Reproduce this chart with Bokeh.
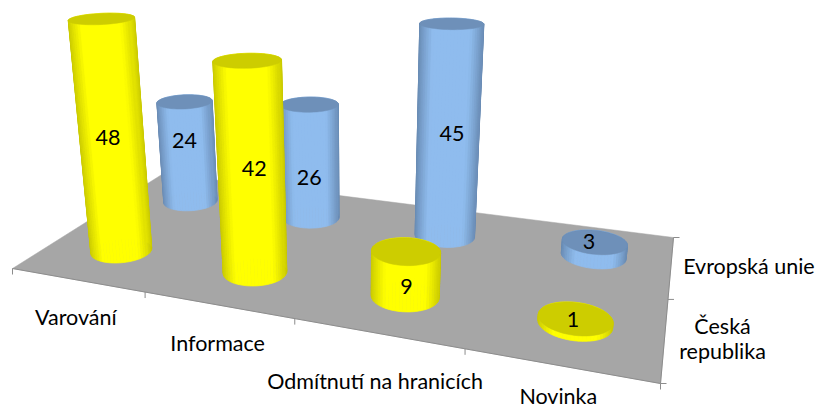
import numpy as np
from bokeh.plotting import figure
from bokeh.models import Range1d, ColumnDataSource
from bokeh.core.properties import value
from bokeh.embed import file_html
from bokeh.resources import INLINE

categories = ["Varování", "Informace", "Odmítnutí na hranicích", "Novinka"]
ceska_republika = [48, 42, 9, 1]
evropska_unie = [24, 26, 45, 3]

FONT = "Lato"
FS = "21.5px"

# small pixel nudges of the value labels (layout only)
NUDGE_CZ = [(-4, -2), (3, -2), (1, 13), (-2, -1)]
NUDGE_EU = [(-3, -12), (-1, 15), (4, 0), (-5, -7)]

# floor corners (X 0..4, Y 0..2) -> picture pixels, a projective camera
src = [(0, 0), (4, 0), (4, 2), (0, 2)]
dst = [(12, 268), (660, 383), (673, 237), (163, 173)]
A, b = [], []
for (u, v), (x, y) in zip(src, dst):
    A.append([u, v, 1, 0, 0, 0, -u * x, -v * x]); b.append(x)
    A.append([0, 0, 0, u, v, 1, -u * y, -v * y]); b.append(y)
H = np.append(np.linalg.solve(np.array(A, float), np.array(b, float)), 1).reshape(3, 3)
V = np.array([354.0, 2976.0, 1.0])
W0 = (H @ np.array([0.5, 0.5, 1.0]))[2]
K = -0.00163 * W0


def proj(X, Y, Z):
    X, Y, Z = np.asarray(X, float), np.asarray(Y, float), np.broadcast_to(np.asarray(Z, float), np.shape(X))
    s = H @ np.vstack([X, Y, np.ones_like(X)]) + np.outer(V, Z * K)
    return s[0] / s[2], s[1] / s[2]


def mix(c0, c1, t):
    return "#%02x%02x%02x" % tuple(int(round(a + (b_ - a) * t)) for a, b_ in zip(c0, c1))


YEL = dict(edge=(200, 200, 0), mid=(255, 255, 0), top="#cdcd00")
BLU = dict(edge=(104, 138, 178), mid=(143, 188, 238), top="#6e90b9")

R = 0.205
CX = 0.52
TH = np.linspace(0, 2 * np.pi, 61)

p = figure(width=818, height=410, x_range=Range1d(0, 818), y_range=Range1d(410, 0),
           toolbar_location=None, output_backend="svg", min_border=0,
           outline_line_color=None, background_fill_color="white", border_fill_color="white")
p.axis.visible = False
p.grid.visible = False

# floor
fx, fy = proj([0, 4, 4, 0], [0, 0, 2, 2], 0)
p.patch(fx, fy, fill_color="#a6a6a6", line_color="#a6a6a6", line_width=0.5)

# axes with ticks
AX = "#8c8c8c"
ax_x, ax_y = proj([0, 4], [0, 0], 0)
p.line(ax_x, ax_y, line_color=AX, line_width=1)
ax_x, ax_y = proj([4, 4], [0, 2], 0)
p.line(ax_x, ax_y, line_color=AX, line_width=1)
for i in range(len(categories) + 1):
    tx, ty = proj([i], [0], 0)
    p.segment(tx, ty, tx, ty + 6, line_color=AX, line_width=1)
for j in range(3):
    tx, ty = proj([4], [j], 0)
    p.segment(tx, ty, tx + 6, ty, line_color=AX, line_width=1)


def cylinder(i, j, val, pal):
    cx = i + CX
    cy = j + 0.5
    X = cx + R * np.cos(TH)
    Y = cy + R * np.sin(TH)
    bx, by = proj(X, Y, 0)
    tx, ty = proj(X, Y, val)
    lo, hi = bx.min(), bx.max()
    xs, ys, cols = [], [], []
    for a in range(len(TH) - 1):
        xs.append([bx[a], bx[a + 1], tx[a + 1], tx[a]])
        ys.append([by[a], by[a + 1], ty[a + 1], ty[a]])
        t = (0.5 * (bx[a] + bx[a + 1]) - lo) / (hi - lo)
        e = min(1.0, min(t, 1 - t) * 2 / 0.42)
        cols.append(mix(pal["edge"], pal["mid"], e ** 0.8))
    p.patches(xs="xs", ys="ys", fill_color="c", line_color="c", line_width=0.7,
              source=ColumnDataSource(dict(xs=xs, ys=ys, c=cols)))
    p.patch(tx, ty, fill_color=pal["top"], line_color=pal["top"], line_width=0.5)


# painter's order: rear series first
for i, v in enumerate(evropska_unie):
    cylinder(i, 1, v, BLU)
for i, v in enumerate(ceska_republika):
    cylinder(i, 0, v, YEL)


# value labels
def value_labels(vals, j, nudge):
    x, y = proj(np.arange(len(vals)) + CX, np.full(len(vals), j + 0.5), np.array(vals) * 0.5)
    n = np.array(nudge, float)
    p.text(x + n[:, 0], y + n[:, 1], text=[str(v) for v in vals], text_font=value(FONT), text_font_size=FS,
           text_color="black", text_align="center", text_baseline="middle")


value_labels(evropska_unie, 1, NUDGE_EU)
value_labels(ceska_republika, 0, NUDGE_CZ)

# category labels hang below the front edge
lx, ly = proj(np.arange(4) + 0.5, np.zeros(4), 0)
p.text(lx + np.array([-1, 0, -2, -1]), ly + np.array([37, 38, 48, 30]), text=categories, text_font=value(FONT),
       text_font_size=FS, text_color="black", text_align="center", text_baseline="middle")

# series labels beside the right edge
sx, sy = proj([4, 4], [1.5, 0.5], 0)
p.text([sx[0] + 78], [sy[0]], text=["Evropská unie"], text_font=value(FONT), text_font_size=FS,
       text_color="black", text_align="center", text_baseline="middle")
p.text([sx[1] + 58, sx[1] + 58], [sy[1] - 12, sy[1] + 13], text=["Česká", "republika"], text_font=value(FONT),
       text_font_size=FS, text_color="black", text_align="center", text_baseline="middle")

open("out.html", "w").write(file_html(p, INLINE))
